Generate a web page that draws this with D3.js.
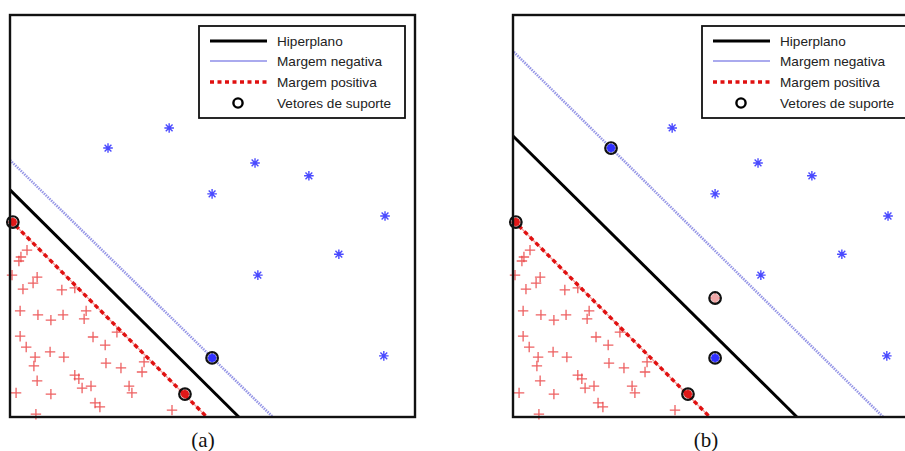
<!DOCTYPE html>
<html><head><meta charset="utf-8">
<script src="https://cdn.jsdelivr.net/npm/d3@7"></script>
<style>body{margin:0;background:#fff}svg{display:block}</style>
</head><body>
<svg id="chart" width="905" height="451"></svg>
<script>
// ---- data (data units 0..10 on both axes) ----
const panelNames = ["(a)", "(b)"];
const blueX = [3.93, 2.42, 6.05, 7.38, 4.99, 9.26, 8.12, 6.12, 9.23, 4.99];
const blueY = [7.19, 6.69, 6.32, 6.00, 5.55, 5.00, 4.05, 3.53, 1.52, 1.47];
const redX = [0.42,0.22,0.27,0.05,0.67,0.57,0.32,1.28,1.60,0.25,0.69,1.01,1.31,1.88,1.83,0.25,0.40,0.62,0.59,0.99,1.33,2.05,2.64,2.35,2.37,2.74,3.31,3.26,0.67,1.60,1.70,1.78,2.00,2.94,3.01,0.15,1.01,2.10,2.22,4.00,0.64,0.07,4.32];
const redY = [4.15,3.88,3.98,3.53,3.48,3.33,3.18,3.16,3.21,2.64,2.54,2.41,2.54,2.64,2.44,2.01,1.74,1.49,1.27,1.62,1.49,1.99,2.11,1.79,1.34,1.22,1.37,1.12,0.90,1.04,0.95,0.72,0.77,0.77,0.60,0.60,0.57,0.35,0.25,0.17,0.07,4.85,0.57];
const extraRedX = [4.99];   // extra point only in panel (b)
const extraRedY = [2.96];
// support vectors: [x, y, class]
const svA = [[0.07,4.85,"r"],[4.32,0.57,"r"],[4.99,1.47,"b"]];
const svB = [[0.07,4.85,"r"],[4.32,0.57,"r"],[2.42,6.69,"b"],[4.99,1.47,"b"],[4.99,2.96,"p"]];
// lines: [x1,y1,x2,y2]
const hyperA = [0, 5.65, 5.65, 0];
const negA   = [0, 6.39, 6.49, 0];
const posA   = [0, 4.90, 4.86, 0];
const hyperB = [0, 6.99, 7.01, 0];
const negB   = [0.02, 9.08, 9.14, 0];
const posB   = [0, 4.90, 4.86, 0];
const legendLabels = ["Hiperplano", "Margem negativa", "Margem positiva", "Vetores de suporte"];

// ---- drawing ----
const svg = d3.select("#chart");
const panels = [
  {x0: 10, name: panelNames[0], hyper: hyperA, neg: negA, pos: posA, sv: svA, extra: false},
  {x0: 513, name: panelNames[1], hyper: hyperB, neg: negB, pos: posB, sv: svB, extra: true}
];
const PW = 405, PTOP = 15, PBOT = 417;
const BLUE = "#2a2aff", RED = "#e8383a", NEG = "#9696e6";

panels.forEach(p => {
  const x = d3.scaleLinear().domain([0, 10]).range([p.x0, p.x0 + PW]);
  const y = d3.scaleLinear().domain([0, 10]).range([PBOT, PTOP]);
  const g = svg.append("g");

  // red crosses
  const reds = redX.map((v, i) => [v, redY[i]]);
  if (p.extra) extraRedX.forEach((v, i) => reds.push([v, extraRedY[i]]));
  const s = 5.2;
  g.append("g").selectAll("path").data(reds).join("path")
    .attr("d", d => { const cx = x(d[0]), cy = y(d[1]);
      return `M${cx - s},${cy}H${cx + s}M${cx},${cy - s}V${cy + s}`; })
    .attr("stroke", RED).attr("stroke-width", 1.3).attr("fill", "none").attr("opacity", 0.8);

  // blue stars
  const blues = blueX.map((v, i) => [v, blueY[i]]);
  const t = 4.8, dd = 3.4;
  g.append("g").selectAll("path").data(blues).join("path")
    .attr("d", d => { const cx = x(d[0]), cy = y(d[1]);
      return `M${cx - t},${cy}H${cx + t}M${cx},${cy - t}V${cy + t}` +
             `M${cx - dd},${cy - dd}L${cx + dd},${cy + dd}M${cx - dd},${cy + dd}L${cx + dd},${cy - dd}`; })
    .attr("stroke", BLUE).attr("stroke-width", 1.4).attr("fill", "none").attr("opacity", 0.85);

  // lines
  const ln = (arr) => g.append("line")
    .attr("x1", x(arr[0])).attr("y1", y(arr[1])).attr("x2", x(arr[2])).attr("y2", y(arr[3]));
  ln(p.neg).attr("stroke", NEG).attr("stroke-width", 2.6).attr("stroke-dasharray", "1.5,1");
  ln(p.pos).attr("stroke", "#f2a0a0").attr("stroke-width", 1.3);
  ln(p.pos).attr("stroke", "#e01010").attr("stroke-width", 3.4).attr("stroke-dasharray", "4.5,3.5");
  ln(p.hyper).attr("stroke", "#000").attr("stroke-width", 3);

  // support vectors
  const fillOf = c => c === "r" ? "#e01818" : c === "b" ? "#3030ff" : "#f0a8a8";
  g.append("g").selectAll("circle.in").data(p.sv).join("circle")
    .attr("cx", d => x(d[0])).attr("cy", d => y(d[1])).attr("r", 4)
    .attr("fill", d => fillOf(d[2]));
  g.append("g").selectAll("circle.ring").data(p.sv).join("circle")
    .attr("cx", d => x(d[0])).attr("cy", d => y(d[1])).attr("r", 5.8)
    .attr("fill", "none").attr("stroke", "#111").attr("stroke-width", 2.2);

  // frame
  g.append("rect").attr("x", p.x0).attr("y", PTOP).attr("width", PW).attr("height", PBOT - PTOP)
    .attr("fill", "none").attr("stroke", "#111").attr("stroke-width", 2.4);

  // legend
  const lg = g.append("g").attr("transform", `translate(${p.x0 + 189},26)`);
  lg.append("rect").attr("width", 206).attr("height", 92)
    .attr("fill", "#fff").attr("stroke", "#111").attr("stroke-width", 1.8);
  const rows = [15, 35, 56, 77];
  lg.append("line").attr("x1", 11).attr("x2", 68).attr("y1", rows[0]).attr("y2", rows[0])
    .attr("stroke", "#000").attr("stroke-width", 3);
  lg.append("line").attr("x1", 11).attr("x2", 68).attr("y1", rows[1]).attr("y2", rows[1])
    .attr("stroke", "#aaaaee").attr("stroke-width", 2.2);
  lg.append("line").attr("x1", 11).attr("x2", 68).attr("y1", rows[2]).attr("y2", rows[2])
    .attr("stroke", "#e01010").attr("stroke-width", 3.4).attr("stroke-dasharray", "4,3.5");
  lg.append("circle").attr("cx", 39).attr("cy", rows[3]).attr("r", 4.6)
    .attr("fill", "none").attr("stroke", "#000").attr("stroke-width", 2.4);
  lg.selectAll("text").data(legendLabels).join("text")
    .attr("x", 78).attr("y", (d, i) => rows[i]).attr("dy", "0.35em")
    .attr("font-family", "Liberation Sans, Arial, sans-serif").attr("font-size", 13.6)
    .attr("fill", "#222").text(d => d);

  // panel label
  svg.append("text").attr("x", p.x0 + 193).attr("y", 447).attr("text-anchor", "middle")
    .attr("font-family", "Liberation Serif, Times New Roman, serif").attr("font-size", 21)
    .attr("fill", "#111").text(p.name);
});
</script>
</body></html>
